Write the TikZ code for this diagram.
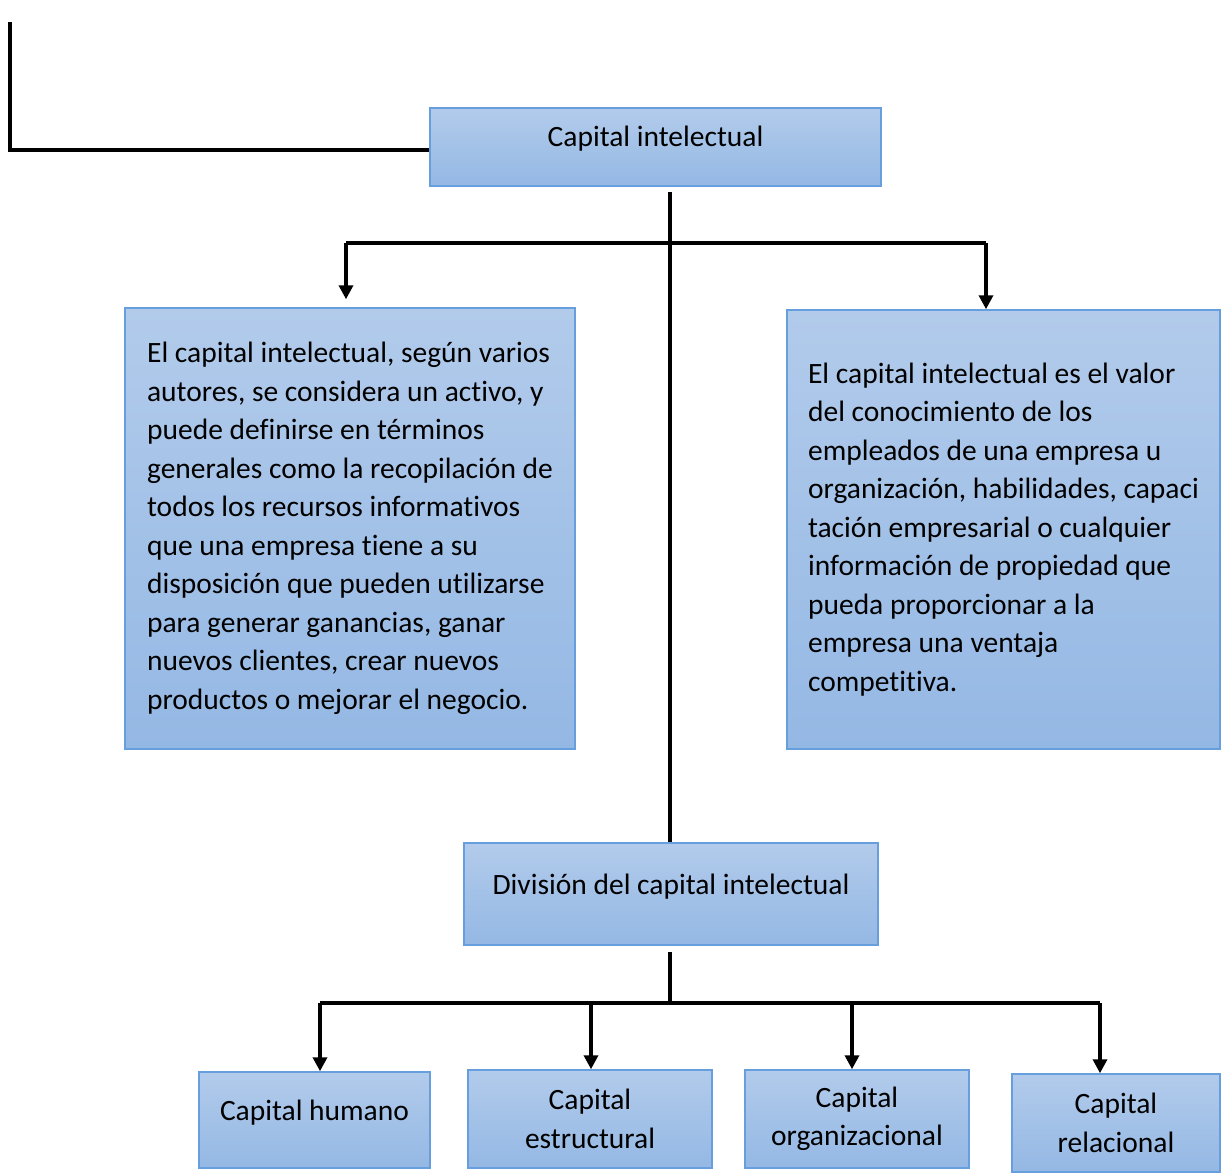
\documentclass[tikz,border=0pt]{standalone}
\usepackage{fontspec}
\setmainfont{Carlito}[Ligatures=NoCommon]
\usepackage{xcolor}
\usepackage{tikz}
\usetikzlibrary{arrows.meta,positioning}

\definecolor{boxtop}{RGB}{178,203,235}
\definecolor{boxbot}{RGB}{148,184,228}
\definecolor{boxline}{RGB}{102,158,222}

\tikzset{
  box/.style={rectangle, draw=boxline, line width=0.75pt,
    top color=boxtop, bottom color=boxbot, inner sep=0pt},
  onerow/.style={text height=11pt, text depth=11pt},
  link/.style={line width=2pt},
  arr/.style={line width=2pt, -{Triangle[width=7pt,length=7pt]}}
}

\begin{document}
\begin{tikzpicture}[x=0.5pt, y=-0.5pt, font=\fontsize{14.75}{19.25}\selectfont]
	\useasboundingbox (0,0) rectangle (1225,1172);
	
	% boxes
	\node[box, onerow, minimum width=225.5pt, minimum height=39pt] (cap) at (655.5,147) {Capital intelectual};
	\node[box, align=left, minimum width=225pt, minimum height=220.5pt] (lft) at (350,528.5)
	{El capital intelectual, según varios\\
	 autores, se considera un activo, y\\
	 puede definirse en términos\\
	 generales como la recopilación de\\
	 todos los recursos informativos\\
	 que una empresa tiene a su\\
	 disposición que pueden utilizarse\\
	 para generar ganancias, ganar\\
	 nuevos clientes, crear nuevos\\
	 productos o mejorar el negocio.};
	\node[box, align=left, minimum width=216.5pt, minimum height=219.5pt] (rgt) at (1003.5,529.5)
	{El capital intelectual es el valor\\
	 del conocimiento de los\\
	 empleados de una empresa u\\
	 organización, habilidades, capaci\\
	 tación empresarial o cualquier\\
	 información de propiedad que\\
	 pueda proporcionar a la\\
	 empresa una ventaja\\
	 competitiva.};
	\node[box, onerow, minimum width=207pt, minimum height=51pt] (div) at (671,894) {División del capital intelectual};
	
	\node[box, onerow, minimum width=115.5pt, minimum height=48pt] (hum) at (314.5,1120) {Capital humano};
	\node[box, align=center, minimum width=122pt, minimum height=49pt] (est) at (590,1119) {Capital\\estructural};
	\node[box, align=center, minimum width=112pt, minimum height=49pt] (org) at (857,1119) {Capital\\organizacional};
	\node[box, align=center, minimum width=104pt, minimum height=49pt] (rel) at (1116,1123) {Capital\\relacional};
	
	% connectors
	\coordinate (top) at (10,22);
	\coordinate (elbow) at (10,150);
	\draw[link] (top) -- (elbow) -- (elbow -| cap.west);
	
	\coordinate (t1) at (670,192);
	\draw[link] (t1) -- (t1 |- div.north);
	
	\coordinate (b1) at (346,243);
	\coordinate (b2) at (986,243);
	\draw[link] (b1) -- (b2);
	\draw[arr, shorten >=4pt] (b1) -- (b1 |- lft.north);
	\draw[arr] (b2) -- (b2 |- rgt.north);
	
	\coordinate (t2) at (670,952);
	\coordinate (c1) at (320,1003);
	\coordinate (c2) at (591,1003);
	\coordinate (c3) at (852,1003);
	\coordinate (c4) at (1100,1003);
	\draw[link] (t2) -- (t2 |- c1);
	\draw[link] (c1) -- (c4);
	\draw[arr] (c1) -- (c1 |- hum.north);
	\draw[arr] (c2) -- (c2 |- est.north);
	\draw[arr] (c3) -- (c3 |- org.north);
	\draw[arr] (c4) -- (c4 |- rel.north);
\end{tikzpicture}
\end{document}
